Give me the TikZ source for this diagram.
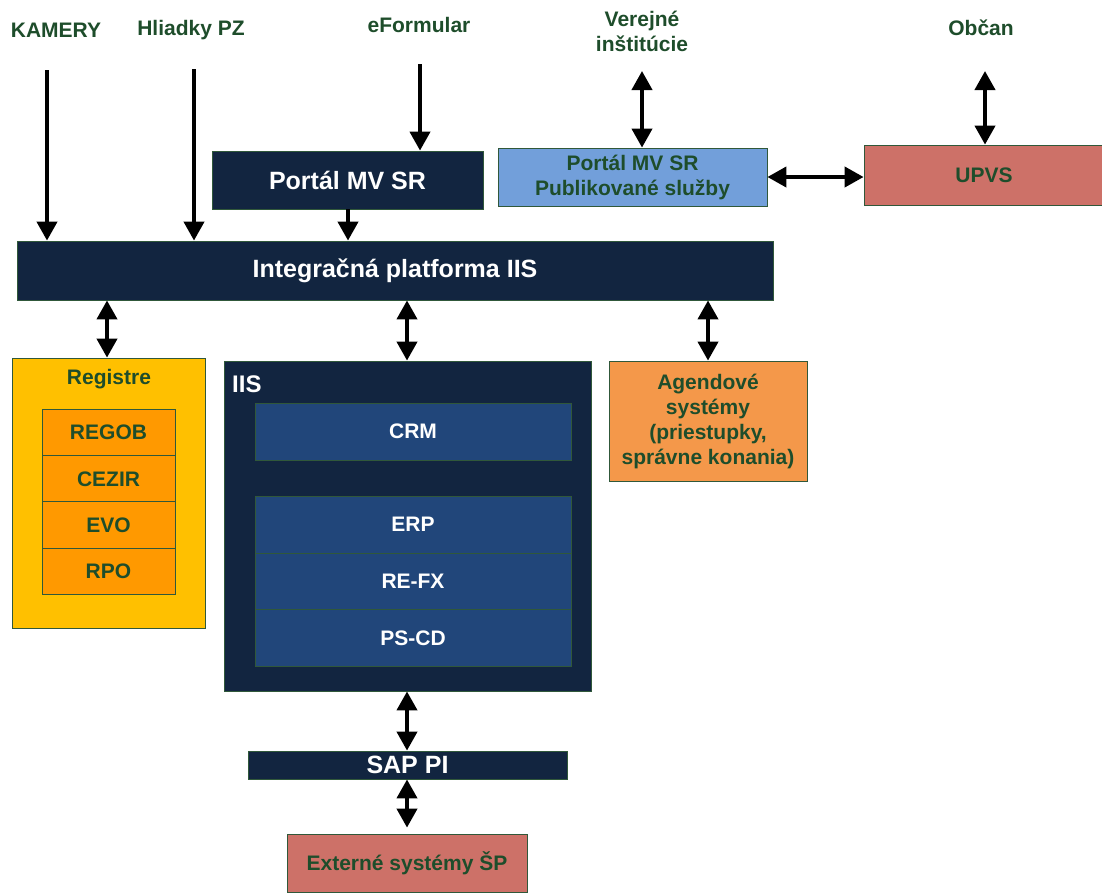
\documentclass[tikz,border=0pt]{standalone}
\usepackage{fontspec}
\setmainfont{Liberation Sans}
\usetikzlibrary{arrows.meta}

\definecolor{navy}{RGB}{18,37,64}
\definecolor{inblue}{RGB}{33,70,122}
\definecolor{txtgreen}{RGB}{30,77,43}
\definecolor{edgegreen}{RGB}{48,88,58}
\definecolor{regfill}{RGB}{255,192,0}
\definecolor{reginner}{RGB}{255,153,0}
\definecolor{agfill}{RGB}{244,152,74}
\definecolor{redfill}{RGB}{205,113,104}
\definecolor{pubfill}{RGB}{114,159,218}

\tikzset{
  box/.style={draw=edgegreen, line width=0.8pt, inner sep=0pt, align=center,
              font=\bfseries\fontsize{21}{25}\selectfont},
  navybox/.style={box, fill=navy, text=white, font=\bfseries\fontsize{25}{30}\selectfont},
  sapbox/.style={box, fill=inblue, text=white, minimum width=316pt, minimum height=57pt},
  regbox/.style={box, fill=reginner, text=txtgreen, minimum width=133pt, minimum height=46.5pt},
  lbl/.style={text=txtgreen, align=center, inner sep=0pt,
              font=\bfseries\fontsize{21}{25}\selectfont},
  arr/.style={line width=4pt, -{Triangle[width=20pt,length=19pt]}},
  darr/.style={line width=4pt, {Triangle[width=20pt,length=19pt]}-{Triangle[width=20pt,length=19pt]}}
}

\begin{document}
\begin{tikzpicture}[x=1pt,y=-1pt]
    \useasboundingbox (0,0) rectangle (1102,892);

    % sources
    \node[lbl] (kamery) at (56,30) {KAMERY};
    \node[lbl] (hliadky) at (191,30) {Hliadky PZ};
    \node[lbl] (eform) at (419,25) {eFormular};
    \node[lbl] (verejne) at (642,31) {Verejné\\inštitúcie};
    \node[lbl] (obcan) at (981,28) {Občan};
    \coordinate (kamtop) at (47,70);
    \coordinate (hlitop) at (194,69);
    \coordinate (eftop) at (420,64);
    \coordinate (vertop) at (642,71);
    \coordinate (obtop) at (985,71);

    % upper boxes
    \node[navybox, minimum width=271pt, minimum height=58pt] (portal) at (347.5,180) {Portál MV SR};
    \node[box, fill=pubfill, text=txtgreen, minimum width=269pt, minimum height=58pt] (pub) at (632.5,177)
        {Portál MV SR\\Publikované služby};
    \node[box, fill=redfill, text=txtgreen, minimum width=240pt, minimum height=60pt] (upvs) at (984,175) {UPVS};
    \node[navybox, minimum width=756pt, minimum height=59pt] (platform) at (395,270.5) {Integračná platforma IIS};

    % registre
    \node[box, fill=regfill, minimum width=193pt, minimum height=270pt] (registre) at (108.5,493) {};
    \node[lbl] (regtitle) at (109,379) {Registre};
    \node[regbox] (regob) at (108.5,432.5) {REGOB};
    \node[regbox] (cezir) at (108.5,479) {CEZIR};
    \node[regbox] (evo) at (108.5,525) {EVO};
    \node[regbox] (rpo) at (108.5,571.5) {RPO};

    % IIS
    \node[box, fill=navy, minimum width=367pt, minimum height=330pt] (iis) at (407.5,526) {};
    \node[text=white, anchor=west, inner sep=0pt, font=\bfseries\fontsize{24}{28}\selectfont] (iistitle) at (232,384) {IIS};
    \node[sapbox] (crm) at (413,431.5) {CRM};
    \node[sapbox] (erp) at (413,524.5) {ERP};
    \node[sapbox] (refx) at (413,581.5) {RE-FX};
    \node[sapbox] (pscd) at (413,638) {PS-CD};

    \node[box, fill=agfill, text=txtgreen, minimum width=198pt, minimum height=120pt] (agenda) at (708,421)
        {Agendové\\systémy\\(priestupky,\\správne konania)};

    % bottom
    \node[navybox, minimum width=319pt, minimum height=28pt] (sappi) at (407.5,765) {SAP PI};
    \node[box, fill=redfill, text=txtgreen, minimum width=240pt, minimum height=58pt] (externe) at (407,863) {Externé systémy ŠP};

    % connectors
    \draw[arr] (kamtop) -- (kamtop |- platform.north);
    \draw[arr] (hlitop) -- (hlitop |- platform.north);
    \draw[arr] (eftop) -- (eftop |- portal.north);
    \draw[arr] (348,0 |- portal.south) -- (348,0 |- platform.north);
    \draw[darr] (vertop) -- (vertop |- pub.north);
    \draw[darr] (obtop) -- (obtop |- upvs.north);
    \draw[darr] (pub.east) -- (pub.east -| upvs.west);
    \draw[darr] (107,0 |- platform.south) -- (107,0 |- registre.north);
    \draw[darr] (407,0 |- platform.south) -- (407,0 |- iis.north);
    \draw[darr] (708,0 |- platform.south) -- (agenda.north);
    \draw[darr] (407,0 |- iis.south) -- (407,0 |- sappi.north);
    \draw[darr] (407,0 |- sappi.south) -- ([yshift=6pt]externe.north);
\end{tikzpicture}
\end{document}
